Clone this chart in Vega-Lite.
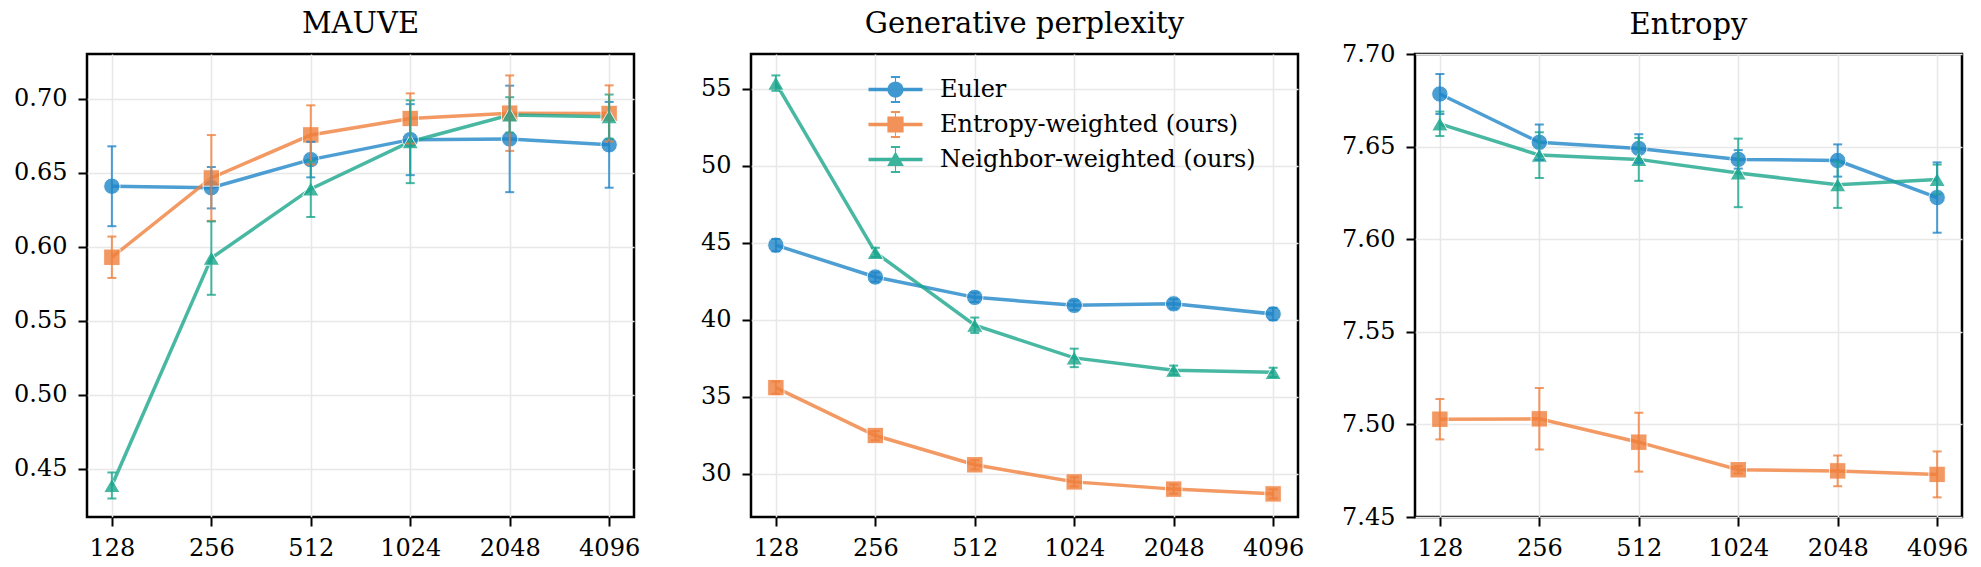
{
  "$schema": "https://vega.github.io/schema/vega-lite/v6.json",
  "background": "white",
  "padding": {"left": 12, "top": 8, "right": 10, "bottom": 5},
  "bounds": "flush",
  "spacing": 117,
  "config": {
    "font": "DejaVu Serif",
    "view": {"stroke": "black", "strokeWidth": 2.5},
    "axis": {
      "labelFont": "DejaVu Serif",
      "labelFontSize": 24,
      "labelColor": "black",
      "tickColor": "black",
      "tickSize": 9,
      "tickWidth": 2,
      "domain": false,
      "grid": true,
      "gridColor": "#e8e8e8",
      "gridWidth": 1.5,
      "title": null,
      "labelPadding": 11
    },
    "axisX": {"labelAngle": 0, "labelPadding": 10},
    "title": {
      "font": "DejaVu Serif",
      "fontSize": 29,
      "fontWeight": "normal",
      "color": "black",
      "baseline": "alphabetic",
      "offset": 15,
      "frame": "group",
      "anchor": "middle"
    }
  },
  "datasets": {
    "results": [
      {"metric": "MAUVE", "n": 128, "method": "Euler", "value": 0.641, "err": 0.027},
      {"metric": "MAUVE", "n": 256, "method": "Euler", "value": 0.640, "err": 0.014},
      {"metric": "MAUVE", "n": 512, "method": "Euler", "value": 0.659, "err": 0.012},
      {"metric": "MAUVE", "n": 1024, "method": "Euler", "value": 0.6725, "err": 0.024},
      {"metric": "MAUVE", "n": 2048, "method": "Euler", "value": 0.673, "err": 0.036},
      {"metric": "MAUVE", "n": 4096, "method": "Euler", "value": 0.669, "err": 0.029},
      {"metric": "MAUVE", "n": 128, "method": "Entropy-weighted (ours)", "value": 0.593, "err": 0.014},
      {"metric": "MAUVE", "n": 256, "method": "Entropy-weighted (ours)", "value": 0.6466, "err": 0.029},
      {"metric": "MAUVE", "n": 512, "method": "Entropy-weighted (ours)", "value": 0.6757, "err": 0.020},
      {"metric": "MAUVE", "n": 1024, "method": "Entropy-weighted (ours)", "value": 0.6868, "err": 0.017},
      {"metric": "MAUVE", "n": 2048, "method": "Entropy-weighted (ours)", "value": 0.6904, "err": 0.0255},
      {"metric": "MAUVE", "n": 4096, "method": "Entropy-weighted (ours)", "value": 0.6902, "err": 0.019},
      {"metric": "MAUVE", "n": 128, "method": "Neighbor-weighted (ours)", "value": 0.4387, "err": 0.0088},
      {"metric": "MAUVE", "n": 256, "method": "Neighbor-weighted (ours)", "value": 0.5924, "err": 0.0248},
      {"metric": "MAUVE", "n": 512, "method": "Neighbor-weighted (ours)", "value": 0.6392, "err": 0.019},
      {"metric": "MAUVE", "n": 1024, "method": "Neighbor-weighted (ours)", "value": 0.6711, "err": 0.028},
      {"metric": "MAUVE", "n": 2048, "method": "Neighbor-weighted (ours)", "value": 0.6892, "err": 0.012},
      {"metric": "MAUVE", "n": 4096, "method": "Neighbor-weighted (ours)", "value": 0.688, "err": 0.015},

      {"metric": "PPL", "n": 128, "method": "Euler", "value": 44.83, "err": 0.4},
      {"metric": "PPL", "n": 256, "method": "Euler", "value": 42.76, "err": 0.3},
      {"metric": "PPL", "n": 512, "method": "Euler", "value": 41.44, "err": 0.3},
      {"metric": "PPL", "n": 1024, "method": "Euler", "value": 40.92, "err": 0.3},
      {"metric": "PPL", "n": 2048, "method": "Euler", "value": 41.02, "err": 0.3},
      {"metric": "PPL", "n": 4096, "method": "Euler", "value": 40.36, "err": 0.4},
      {"metric": "PPL", "n": 128, "method": "Entropy-weighted (ours)", "value": 35.58, "err": 0.4},
      {"metric": "PPL", "n": 256, "method": "Entropy-weighted (ours)", "value": 32.47, "err": 0.3},
      {"metric": "PPL", "n": 512, "method": "Entropy-weighted (ours)", "value": 30.57, "err": 0.3},
      {"metric": "PPL", "n": 1024, "method": "Entropy-weighted (ours)", "value": 29.46, "err": 0.3},
      {"metric": "PPL", "n": 2048, "method": "Entropy-weighted (ours)", "value": 28.99, "err": 0.3},
      {"metric": "PPL", "n": 4096, "method": "Entropy-weighted (ours)", "value": 28.68, "err": 0.3},
      {"metric": "PPL", "n": 128, "method": "Neighbor-weighted (ours)", "value": 55.35, "err": 0.5},
      {"metric": "PPL", "n": 256, "method": "Neighbor-weighted (ours)", "value": 44.36, "err": 0.3},
      {"metric": "PPL", "n": 512, "method": "Neighbor-weighted (ours)", "value": 39.63, "err": 0.5},
      {"metric": "PPL", "n": 1024, "method": "Neighbor-weighted (ours)", "value": 37.51, "err": 0.6},
      {"metric": "PPL", "n": 2048, "method": "Neighbor-weighted (ours)", "value": 36.71, "err": 0.3},
      {"metric": "PPL", "n": 4096, "method": "Neighbor-weighted (ours)", "value": 36.57, "err": 0.3},

      {"metric": "Entropy", "n": 128, "method": "Euler", "value": 7.6784, "err": 0.0108},
      {"metric": "Entropy", "n": 256, "method": "Euler", "value": 7.6523, "err": 0.0096},
      {"metric": "Entropy", "n": 512, "method": "Euler", "value": 7.6490, "err": 0.0077},
      {"metric": "Entropy", "n": 1024, "method": "Euler", "value": 7.6431, "err": 0.005},
      {"metric": "Entropy", "n": 2048, "method": "Euler", "value": 7.6425, "err": 0.0087},
      {"metric": "Entropy", "n": 4096, "method": "Euler", "value": 7.6225, "err": 0.019},
      {"metric": "Entropy", "n": 128, "method": "Entropy-weighted (ours)", "value": 7.5028, "err": 0.0109},
      {"metric": "Entropy", "n": 256, "method": "Entropy-weighted (ours)", "value": 7.5030, "err": 0.0166},
      {"metric": "Entropy", "n": 512, "method": "Entropy-weighted (ours)", "value": 7.4904, "err": 0.0159},
      {"metric": "Entropy", "n": 1024, "method": "Entropy-weighted (ours)", "value": 7.4755, "err": 0.002},
      {"metric": "Entropy", "n": 2048, "method": "Entropy-weighted (ours)", "value": 7.4749, "err": 0.0083},
      {"metric": "Entropy", "n": 4096, "method": "Entropy-weighted (ours)", "value": 7.4730, "err": 0.0124},
      {"metric": "Entropy", "n": 128, "method": "Neighbor-weighted (ours)", "value": 7.6623, "err": 0.0066},
      {"metric": "Entropy", "n": 256, "method": "Neighbor-weighted (ours)", "value": 7.6454, "err": 0.0124},
      {"metric": "Entropy", "n": 512, "method": "Neighbor-weighted (ours)", "value": 7.6431, "err": 0.0116},
      {"metric": "Entropy", "n": 1024, "method": "Neighbor-weighted (ours)", "value": 7.6358, "err": 0.0185},
      {"metric": "Entropy", "n": 2048, "method": "Neighbor-weighted (ours)", "value": 7.6294, "err": 0.0125},
      {"metric": "Entropy", "n": 4096, "method": "Neighbor-weighted (ours)", "value": 7.6323, "err": 0.008}
    ]
  },
  "resolve": {"scale": {"shape": "independent", "color": "independent"}, "legend": {"shape": "independent", "color": "independent"}},
  "hconcat": [
    {
      "title": "MAUVE",
      "width": 547,
      "height": 463,
      "data": {"name": "results"},
      "transform": [{"filter": "datum.metric === 'MAUVE'"}],
      "encoding": {
        "x": {"field": "n", "type": "ordinal", "scale": {"type": "point", "padding": 0.25}},
        "y": {"field": "value", "type": "quantitative",
              "scale": {"domain": [0.4174, 0.7304], "nice": false, "zero": false},
              "axis": {"title": null, "values": [0.45, 0.5, 0.55, 0.6, 0.65, 0.7], "format": ".2f"}},
        "color": {"field": "method", "type": "nominal", "legend": null,
                  "scale": {"domain": ["Euler", "Entropy-weighted (ours)", "Neighbor-weighted (ours)"],
                            "range": ["#1f86c8", "#f07f3c", "#1aa68c"]}}
      },
      "layer": [
        {"mark": {"type": "line", "strokeWidth": 3.5, "opacity": 0.8}},
        {"mark": {"type": "point", "filled": true, "size": 270, "opacity": 0.8, "stroke": "white", "strokeWidth": 1},
         "encoding": {"shape": {"field": "method", "type": "nominal", "legend": null,
                                "scale": {"domain": ["Euler", "Entropy-weighted (ours)", "Neighbor-weighted (ours)"],
                                          "range": ["circle", "square", "triangle-up"]}}}},
        {"mark": {"type": "errorbar", "ticks": {"size": 9, "opacity": 0.8}, "rule": {"opacity": 0.8}, "thickness": 2},
         "encoding": {"yError": {"field": "err"}}}
      ]
    },
    {
      "title": "Generative perplexity",
      "width": 547,
      "height": 463,
      "data": {"name": "results"},
      "transform": [{"filter": "datum.metric === 'PPL'"}],
      "encoding": {
        "x": {"field": "n", "type": "ordinal", "scale": {"type": "point", "padding": 0.25}},
        "y": {"field": "value", "type": "quantitative",
              "scale": {"domain": [27.18, 57.24], "nice": false, "zero": false},
              "axis": {"title": null, "values": [30, 35, 40, 45, 50, 55], "format": "d"}}
      },
      "resolve": {"scale": {"shape": "independent", "color": "independent"}, "legend": {"shape": "independent", "color": "independent"}},
      "layer": [
        {"mark": {"type": "line", "strokeWidth": 3.5, "opacity": 0.8},
         "encoding": {"color": {"field": "method", "type": "nominal", "legend": null,
                                "scale": {"domain": ["Euler", "Entropy-weighted (ours)", "Neighbor-weighted (ours)"],
                                          "range": ["#1f86c8", "#f07f3c", "#1aa68c"]}}}},
        {"mark": {"type": "point", "filled": true, "size": 270, "opacity": 0.8, "stroke": "white", "strokeWidth": 1},
         "encoding": {"color": {"field": "method", "type": "nominal", "legend": null,
                                "scale": {"domain": ["Euler", "Entropy-weighted (ours)", "Neighbor-weighted (ours)"],
                                          "range": ["#1f86c8", "#f07f3c", "#1aa68c"]}},
                      "shape": {"field": "method", "type": "nominal", "legend": null,
                                "scale": {"domain": ["Euler", "Entropy-weighted (ours)", "Neighbor-weighted (ours)"],
                                          "range": ["circle", "square", "triangle-up"]}}}},
        {"mark": {"type": "errorbar", "ticks": {"size": 9, "opacity": 0.8}, "rule": {"opacity": 0.8}, "thickness": 2},
         "encoding": {"yError": {"field": "err"},
                      "color": {"field": "method", "type": "nominal", "legend": null,
                                "scale": {"domain": ["Euler", "Entropy-weighted (ours)", "Neighbor-weighted (ours)"],
                                          "range": ["#1f86c8", "#f07f3c", "#1aa68c"]}}}},
        {"mark": {"type": "point", "filled": true, "opacity": 0},
         "encoding": {
           "color": {"field": "method", "type": "nominal",
                     "scale": {"domain": ["Euler", "Entropy-weighted (ours)", "Neighbor-weighted (ours)"],
                               "range": ["#1f86c8", "#f07f3c", "#1aa68c"]},
                     "legend": {
                       "title": null, "orient": "none", "legendX": 131, "legendY": 22, "padding": 0,
                       "symbolSize": 729, "symbolOpacity": 0.85, "symbolStrokeWidth": 0,
                       "labelFont": "DejaVu Serif", "labelFontSize": 24, "labelColor": "black",
                       "labelOffset": 31, "labelLimit": 500, "rowPadding": 8
                     }},
           "shape": {"field": "method", "type": "nominal",
                     "scale": {"domain": ["Euler", "Entropy-weighted (ours)", "Neighbor-weighted (ours)"],
                               "range": [
                                 "M-2,-0.13H2V0.13H-2Z M0.6,0A0.6,0.6,0,1,1,-0.6,0A0.6,0.6,0,1,1,0.6,0Z M-0.04,-0.9H0.04V0.9H-0.04Z M-0.34,-1H0.34V-0.86H-0.34Z M-0.34,0.86H0.34V1H-0.34Z",
                                 "M-2,-0.13H2V0.13H-2Z M-0.6,-0.6H0.6V0.6H-0.6Z M-0.04,-0.9H0.04V0.9H-0.04Z M-0.34,-1H0.34V-0.86H-0.34Z M-0.34,0.86H0.34V1H-0.34Z",
                                 "M-2,-0.13H2V0.13H-2Z M0,-0.6L0.62,0.48L-0.62,0.48Z M-0.04,-0.9H0.04V0.9H-0.04Z M-0.34,-1H0.34V-0.86H-0.34Z M-0.34,0.86H0.34V1H-0.34Z"
                               ]},
                     "legend": {
                       "title": null, "orient": "none", "legendX": 131, "legendY": 22, "padding": 0,
                       "symbolSize": 729, "symbolOpacity": 0.85, "symbolStrokeWidth": 0,
                       "labelFont": "DejaVu Serif", "labelFontSize": 24, "labelColor": "black",
                       "labelOffset": 31, "labelLimit": 500, "rowPadding": 8
                     }}
         }}
      ]
    },
    {
      "title": {"text": "Entropy", "offset": 2},
      "width": 547,
      "height": 463,
      "data": {"name": "results"},
      "transform": [{"filter": "datum.metric === 'Entropy'"}],
      "encoding": {
        "x": {"field": "n", "type": "ordinal", "scale": {"type": "point", "padding": 0.25}},
        "y": {"field": "value", "type": "quantitative",
              "scale": {"domain": [7.45, 7.70], "nice": false, "zero": false},
              "axis": {"title": null, "values": [7.45, 7.5, 7.55, 7.6, 7.65, 7.7], "format": ".2f"}},
        "color": {"field": "method", "type": "nominal", "legend": null,
                  "scale": {"domain": ["Euler", "Entropy-weighted (ours)", "Neighbor-weighted (ours)"],
                            "range": ["#1f86c8", "#f07f3c", "#1aa68c"]}}
      },
      "layer": [
        {"mark": {"type": "line", "strokeWidth": 3.5, "opacity": 0.8}},
        {"mark": {"type": "point", "filled": true, "size": 270, "opacity": 0.8, "stroke": "white", "strokeWidth": 1},
         "encoding": {"shape": {"field": "method", "type": "nominal", "legend": null,
                                "scale": {"domain": ["Euler", "Entropy-weighted (ours)", "Neighbor-weighted (ours)"],
                                          "range": ["circle", "square", "triangle-up"]}}}},
        {"mark": {"type": "errorbar", "ticks": {"size": 9, "opacity": 0.8}, "rule": {"opacity": 0.8}, "thickness": 2},
         "encoding": {"yError": {"field": "err"}}}
      ]
    }
  ]
}
